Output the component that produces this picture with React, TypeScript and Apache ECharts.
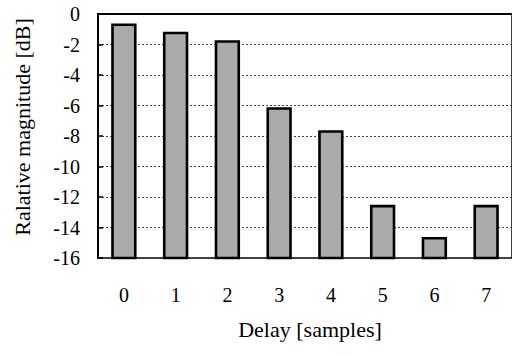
import React, { useEffect, useRef } from "react";
import * as echarts from "echarts";

const categories = ["0", "1", "2", "3", "4", "5", "6", "7"];
const magnitudes = [-0.7, -1.25, -1.8, -6.2, -7.7, -12.6, -14.7, -12.6];
const yMin = -16;
const yMax = 0;
const yStep = 2;

const FONT = "Liberation Serif";

export default function App() {
  const ref = useRef<HTMLDivElement>(null);
  useEffect(() => {
    if (!ref.current) return;
    const chart = echarts.init(ref.current, undefined, { renderer: "svg" });
    chart.setOption({
      animation: false,
      backgroundColor: "#fff",
      textStyle: { fontFamily: FONT },
      grid: {
        left: 98,
        top: 14,
        right: -2,
        bottom: 98,
        show: true,
        borderColor: "#000",
        borderWidth: 1.5,
      },
      xAxis: {
        type: "category",
        data: categories,
        boundaryGap: true,
        name: "Delay [samples]",
        nameLocation: "middle",
        nameGap: 60,
        nameTextStyle: { fontFamily: FONT, fontSize: 22, color: "#000", padding: [0, 0, 0, 10] },
        axisLine: { lineStyle: { color: "#000", width: 2 } },
        axisTick: { inside: true, length: 5, lineStyle: { color: "#000", width: 1.5 } },
        axisLabel: { fontFamily: FONT, fontSize: 20, color: "#000", margin: 27 },
        splitLine: { show: false },
      },
      yAxis: {
        type: "value",
        min: yMin,
        max: yMax,
        interval: yStep,
        name: "Ralative magnitude [dB]",
        nameLocation: "middle",
        nameGap: 65,
        nameTextStyle: { fontFamily: FONT, fontSize: 22, color: "#000", padding: [0, 0, 0, 18] },
        axisLine: { show: true, lineStyle: { color: "#000", width: 2 } },
        axisTick: { show: true, inside: true, length: 5, lineStyle: { color: "#000", width: 1.5 } },
        axisLabel: { fontFamily: FONT, fontSize: 20, color: "#000", margin: 18 },
        splitLine: { show: true, lineStyle: { color: "#444", width: 1, type: [2, 2] } },
      },
      series: [
        {
          type: "custom",
          data: magnitudes.map((v, i) => [i, v]),
          encode: { x: 0, y: 1 },
          renderItem: (params: any, api: any) => {
            const idx = api.value(0);
            const v = api.value(1);
            const top = api.coord([idx, v]);
            const bottom = api.coord([idx, yMin]);
            const w = api.size([1, 0])[0] * 0.44;
            return {
              type: "rect",
              shape: { x: top[0] - w / 2, y: top[1], width: w, height: bottom[1] - top[1] },
              style: { fill: "#aaaaaa", stroke: "#000", lineWidth: 2.6 },
            };
          },
        },
      ],
    });
    return () => chart.dispose();
  }, []);
  return (
    <div
      ref={ref}
      style={{ position: "fixed", left: 0, top: 0, width: 512, height: 356, background: "#fff" }}
    />
  );
}
